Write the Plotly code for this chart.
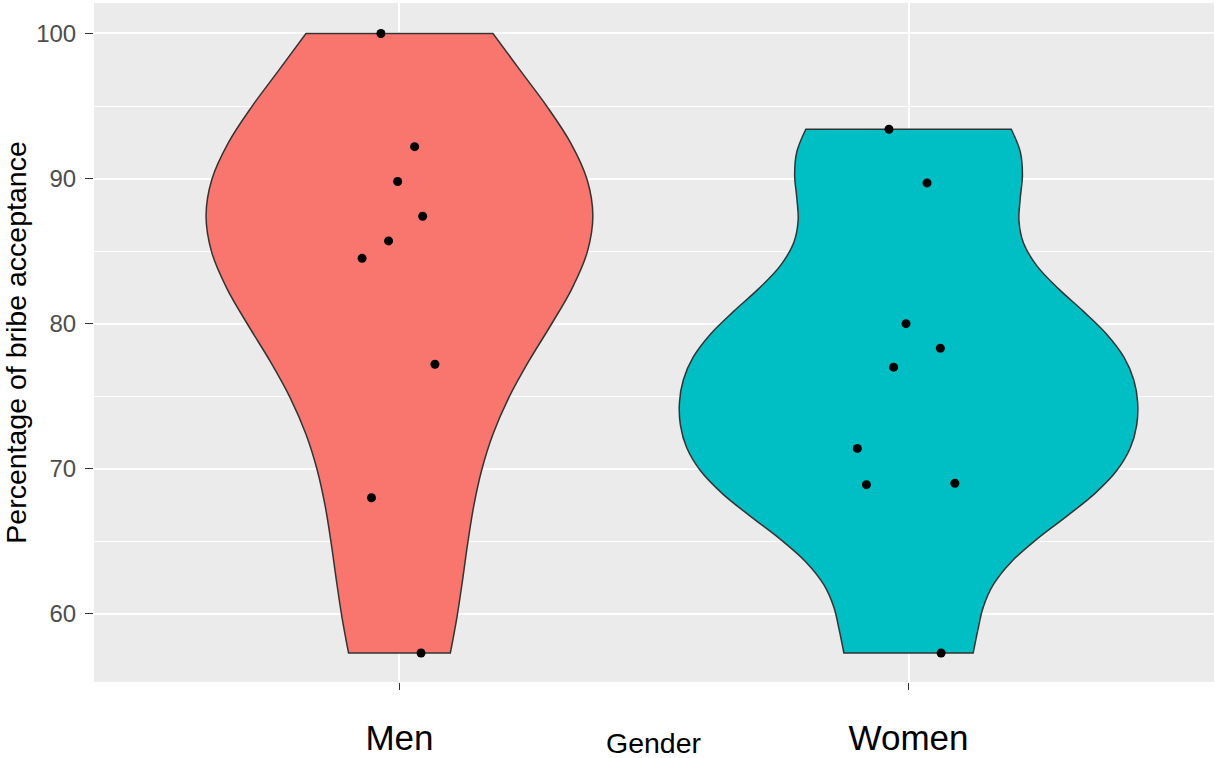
import numpy as np
import plotly.graph_objects as go

# ---- data ----
categories = ["Men", "Women"]
men_values = [100.0, 92.2, 89.8, 87.4, 85.7, 84.5, 77.2, 68.0, 57.3]
women_values = [93.4, 89.7, 80.0, 78.3, 77.0, 71.4, 69.0, 68.9, 57.3]
y_ticks = [60, 70, 80, 90, 100]

fill_colors = {"Men": "#F8766D", "Women": "#00BFC4"}
bw_adjust = {"Men": 1.42, "Women": 1.0}   # smoothing factor per group


def bw_nrd0(vals):
    v = np.asarray(vals, dtype=float)
    sd = v.std(ddof=1)
    iqr = np.subtract(*np.percentile(v, [75, 25]))
    lo = min(sd, iqr / 1.34)
    return 0.9 * lo * len(v) ** (-0.2)


def peak_density(vals, bw):
    v = np.asarray(vals, dtype=float)
    grid = np.linspace(v.min(), v.max(), 512)
    dens = np.exp(-0.5 * ((grid[:, None] - v[None, :]) / bw) ** 2).sum(axis=1)
    return dens.max() / (len(v) * bw * np.sqrt(2 * np.pi))


groups = {"Men": men_values, "Women": women_values}
bws = {k: bw_nrd0(v) * bw_adjust[k] for k, v in groups.items()}
peaks = {k: peak_density(groups[k], bws[k]) for k in groups}
max_peak = max(peaks.values())

fig = go.Figure()
for name in categories:
    vals = groups[name]
    fig.add_trace(go.Violin(
        x=[name] * len(vals),
        y=vals,
        name=name,
        bandwidth=bws[name],
        spanmode="hard",
        scalemode="width",
        scalegroup=name,
        width=0.9 * peaks[name] / max_peak,
        fillcolor=fill_colors[name],
        line=dict(color="#333333", width=1.5),
        opacity=1,
        points="all",
        pointpos=0,
        jitter=0.3,
        marker=dict(color="black", size=9, line=dict(width=0)),
        box=dict(visible=False),
        meanline=dict(visible=False),
        hoverinfo="y",
        showlegend=False,
    ))

font_family = "Liberation Sans, Arial, sans-serif"

fig.update_layout(
    width=1215,
    height=758,
    margin=dict(l=94, r=1, t=3, b=76, autoexpand=False),
    paper_bgcolor="white",
    plot_bgcolor="#EBEBEB",
    violinmode="overlay",
    font=dict(family=font_family),
    showlegend=False,
    xaxis=dict(
        type="category",
        categoryorder="array",
        categoryarray=categories,
        range=[-0.6, 1.6],
        showgrid=True,
        gridcolor="white",
        gridwidth=2,
        zeroline=False,
        showline=False,
        ticks="outside",
        ticklen=7,
        tickwidth=1.2,
        tickcolor="#333333",
        tickfont=dict(size=35, color="black", family=font_family),
        ticklabelstandoff=18,
        automargin=False,
    ),
    yaxis=dict(
        range=[55.3, 102.1],
        tickvals=y_ticks,
        showgrid=True,
        gridcolor="white",
        gridwidth=2,
        zeroline=False,
        showline=False,
        ticks="outside",
        ticklen=8,
        tickwidth=1.2,
        tickcolor="#333333",
        tickfont=dict(size=24, color="#4D4D4D", family=font_family),
        ticklabelstandoff=4,
        minor=dict(tick0=55, dtick=5, showgrid=True, gridcolor="white", gridwidth=1, ticks=""),
        title=dict(text="Percentage of bribe acceptance",
                   font=dict(size=28.5, color="black", family=font_family),
                   standoff=5),
        automargin=False,
    ),
    annotations=[dict(
        text="Gender",
        xref="paper", yref="paper",
        x=0.5, y=-0.0898,
        xanchor="center", yanchor="middle",
        showarrow=False,
        font=dict(size=28.5, color="black", family=font_family),
    )],
)

fig.write_html(
    "out.html",
    config={"displayModeBar": False},
    post_script="document.body.style.margin='0';document.body.style.overflow='hidden';",
)
